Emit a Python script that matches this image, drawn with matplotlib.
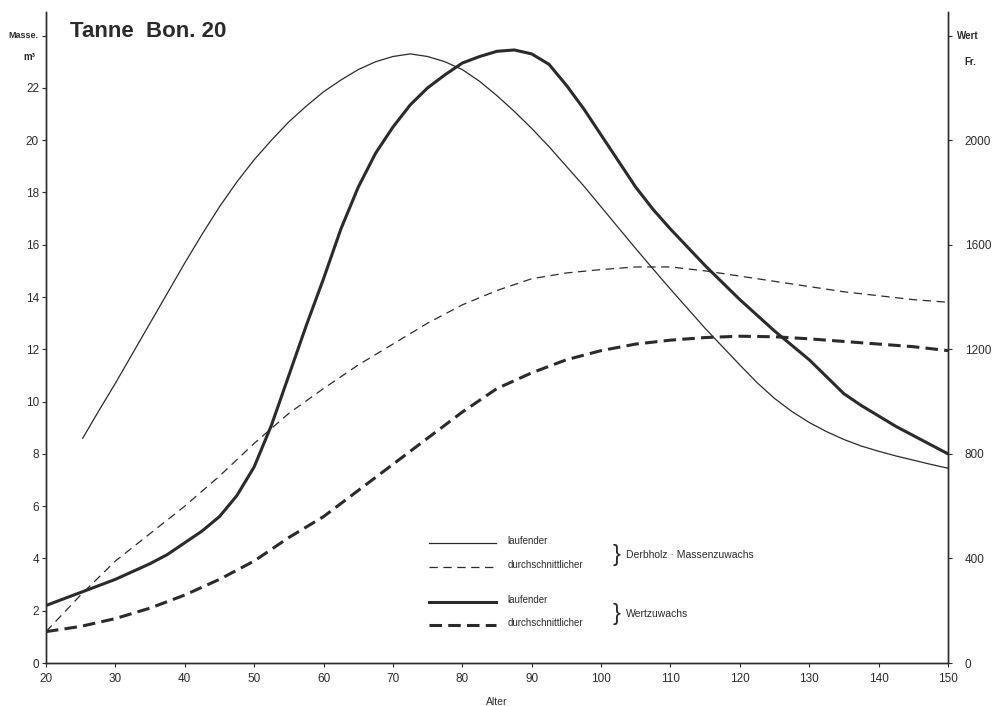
import numpy as np
import matplotlib.pyplot as plt

plt.rcParams['font.family'] = ['Liberation Sans', 'DejaVu Sans']
plt.rcParams['lines.scale_dashes'] = False

# Derbholz-Massenzuwachs (m3)
alter_lfd_masse = [25.3, 27.5, 30, 32.5, 35, 37.5, 40, 42.5, 45, 47.5, 50, 52.5, 55, 57.5,
                   60, 62.5, 65, 67.5, 70, 72.5, 75, 77.5, 80, 82.5, 85, 87.5, 90, 92.5,
                   95, 97.5, 100, 102.5, 105, 107.5, 110, 112.5, 115, 117.5, 120, 122.5,
                   125, 127.5, 130, 132.5, 135, 137.5, 140, 142.5, 145, 147.5, 150]
lfd_masse = [8.6, 9.6, 10.7, 11.85, 13.0, 14.15, 15.3, 16.4, 17.45, 18.4, 19.25, 20.0, 20.7,
             21.3, 21.85, 22.3, 22.7, 23.0, 23.2, 23.3, 23.2, 23.0, 22.7, 22.25, 21.7, 21.1,
             20.45, 19.75, 19.0, 18.25, 17.45, 16.65, 15.85, 15.07, 14.3, 13.55, 12.8, 12.1,
             11.4, 10.72, 10.12, 9.62, 9.2, 8.85, 8.55, 8.3, 8.1, 7.92, 7.76, 7.6, 7.45]

alter = [20, 25, 30, 35, 40, 45, 50, 55, 60, 65, 70, 75, 80, 85, 90, 95, 100,
         105, 110, 115, 120, 125, 130, 135, 140, 145, 150]
dgz_masse = [1.2, 2.6, 3.9, 4.95, 6.0, 7.15, 8.4, 9.55, 10.5, 11.4, 12.2, 13.0, 13.7, 14.25,
             14.7, 14.92, 15.05, 15.15, 15.15, 15.0, 14.8, 14.6, 14.4, 14.2, 14.05, 13.9, 13.8]

# Wertzuwachs (Fr.)
alter_lfd_wert = [20, 22.5, 25, 27.5, 30, 32.5, 35, 37.5, 40, 42.5, 45, 47.5, 50, 52.5, 55,
                  57.5, 60, 62.5, 65, 67.5, 70, 72.5, 75, 77.5, 80, 82.5, 85, 87.5, 90,
                  92.5, 95, 97.5, 100, 102.5, 105, 107.5, 110, 112.5, 115, 117.5, 120,
                  122.5, 125, 127.5, 130, 132.5, 135, 137.5, 140, 142.5, 145, 147.5, 150]
lfd_wert = [220, 245, 270, 295, 320, 350, 380, 415, 460, 505, 560, 640, 750, 910, 1100,
            1290, 1470, 1660, 1820, 1950, 2050, 2135, 2200, 2250, 2295, 2320, 2340, 2345,
            2330, 2290, 2210, 2120, 2020, 1920, 1820, 1735, 1660, 1590, 1520, 1455, 1390,
            1330, 1270, 1215, 1160, 1095, 1030, 985, 945, 905, 870, 835, 800]
dgz_wert = [120, 140, 170, 210, 260, 320, 390, 480, 560, 660, 760, 860, 960, 1050, 1110,
            1160, 1195, 1220, 1235, 1245, 1250, 1248, 1240, 1230, 1220, 1210, 1195]

col = '#2b2b2b'

fig = plt.figure(figsize=(9.93, 7.06), dpi=100)
ax = fig.add_axes([0.0463, 0.0609, 0.9084, 0.922])
ax2 = ax.twinx()

ax.plot(alter_lfd_masse, lfd_masse, color=col, lw=0.9)
ax.plot(alter, dgz_masse, color=col, lw=0.9, dashes=(6, 4))
ax2.plot(alter_lfd_wert, lfd_wert, color=col, lw=2.2)
ax2.plot(alter, dgz_wert, color=col, lw=2.2, dashes=(9, 4.5))

ax.set_xlim(20, 150)
ax.set_ylim(0, 24.9)
ax2.set_ylim(0, 2490)

ax.set_xticks(range(20, 151, 10))
ax.set_yticks(list(range(0, 23, 2)) + [24])
ax.set_yticklabels([str(v) for v in range(0, 23, 2)] + [''])
ax2.set_yticks([0, 400, 800, 1200, 1600, 2000, 2400])
ax2.set_yticklabels(['0', '400', '800', '1200', '1600', '2000', ''])

for a in (ax, ax2):
    a.spines['top'].set_visible(False)
    for s in ('left', 'right', 'bottom'):
        a.spines[s].set_color(col)
        a.spines[s].set_linewidth(1.0)
    a.tick_params(colors=col, labelsize=8.5, length=3, width=0.8, pad=2)
ax.tick_params(axis='x', pad=4)
ax2.tick_params(axis='y', pad=9)

ax.text(-0.008, 24, 'Masse.', transform=ax.get_yaxis_transform(), ha='right', va='center',
        fontsize=6.5, fontweight='bold', color=col)
ax.text(-0.012, 23.2, 'm³', transform=ax.get_yaxis_transform(), ha='right', va='center',
        fontsize=7, fontweight='bold', color=col)
ax.text(1.01, 24, 'Wert', transform=ax.get_yaxis_transform(), ha='left', va='center',
        fontsize=7, fontweight='bold', color=col)
ax.text(1.018, 23.0, 'Fr.', transform=ax.get_yaxis_transform(), ha='left', va='center',
        fontsize=7, fontweight='bold', color=col)

ax.text(23.4, 24.15, 'Tanne  Bon. 20', fontsize=16, fontweight='bold', color=col,
        va='center', ha='left')
ax.set_xlabel('Alter', fontsize=7.5, color=col, labelpad=9)

# legend drawn by hand
lx0, lx1, tx = 0.425, 0.499, 0.512
rows = [(0.184, 0.9, None), (0.147, 0.9, (6, 4)), (0.094, 2.2, None), (0.058, 2.2, (9, 4.5))]
labels = ['laufender', 'durchschnittlicher', 'laufender', 'durchschnittlicher']
for (yy, lw, ds), lab in zip(rows, labels):
    kw = {} if ds is None else {'dashes': ds}
    ax.plot([lx0, lx1], [yy, yy], transform=ax.transAxes, color=col, lw=lw, **kw)
    ax.text(tx, yy + 0.003, lab, transform=ax.transAxes, fontsize=7, color=col, va='center')
ax.text(0.628, 0.166, '}', transform=ax.transAxes, fontsize=17, color=col, va='center',
        fontweight='light')
ax.text(0.643, 0.166, 'Derbholz · Massenzuwachs', transform=ax.transAxes, fontsize=7.5,
        color=col, va='center')
ax.text(0.628, 0.076, '}', transform=ax.transAxes, fontsize=17, color=col, va='center',
        fontweight='light')
ax.text(0.643, 0.076, 'Wertzuwachs', transform=ax.transAxes, fontsize=7.5,
        color=col, va='center')

fig.savefig('out.png', dpi=100)
